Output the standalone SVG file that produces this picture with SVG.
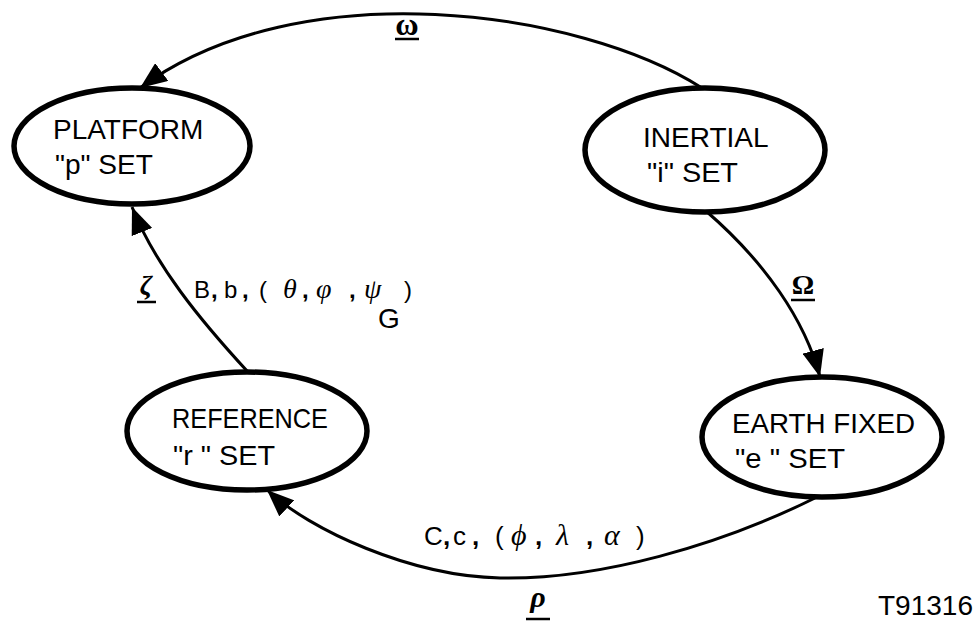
<svg xmlns="http://www.w3.org/2000/svg" width="974" height="622" viewBox="0 0 974 622">
<defs>
<style>
.node{fill:#fff;stroke:#000;stroke-width:5.5}
.lbl{font-family:"Liberation Sans",Arial,sans-serif;font-size:28px;fill:#000}
.edge{fill:none;stroke:#000;stroke-width:3}
.sym{font-family:"Liberation Serif","DejaVu Serif",serif;font-weight:bold;fill:#000;text-anchor:middle}
.ul{stroke:#000;stroke-width:2.5}
.eq{font-family:"Liberation Sans",Arial,sans-serif;fill:#000}
.gr{font-family:"Liberation Serif","DejaVu Serif",serif;font-style:italic}
.cm{font-weight:bold}
</style>
<marker id="ah" markerUnits="userSpaceOnUse" markerWidth="28" markerHeight="22" refX="27" refY="11" orient="auto">
<path d="M0,0 L27,11 L0,22 z" fill="#000"/>
</marker>
</defs>
<rect width="974" height="622" fill="#fff"/>
<g id="connectors">
<path class="edge" d="M702 88 C580 10, 300 -30, 140 88" marker-end="url(#ah)"/>
<path class="edge" d="M706 211 C765 262, 805 320, 820 377" marker-end="url(#ah)"/>
<path class="edge" d="M815 498 C720 545, 600 580, 500 578 C410 576, 310 530, 267 490" marker-end="url(#ah)"/>
<path class="edge" d="M248 372 C200 320, 155 265, 132 207" marker-end="url(#ah)"/>
</g>
<g id="platform">
<ellipse class="node" cx="132" cy="146" rx="118" ry="58"/>
<text class="lbl" x="53" y="139">PLATFORM</text>
<text class="lbl" x="55" y="174" textLength="98" lengthAdjust="spacingAndGlyphs">"p" SET</text>
</g>
<g id="inertial">
<ellipse class="node" cx="705" cy="150" rx="120" ry="62"/>
<text class="lbl" x="643" y="147">INERTIAL</text>
<text class="lbl" x="647" y="182" textLength="91" lengthAdjust="spacingAndGlyphs">"i" SET</text>
</g>
<g id="reference">
<ellipse class="node" cx="247" cy="431" rx="120" ry="59"/>
<text class="lbl" x="172" y="428" textLength="156" lengthAdjust="spacingAndGlyphs">REFERENCE</text>
<text class="lbl" x="173" y="465" textLength="102" lengthAdjust="spacingAndGlyphs">"r " SET</text>
</g>
<g id="earthfixed">
<ellipse class="node" cx="822" cy="437" rx="120" ry="60"/>
<text class="lbl" x="732" y="433" textLength="183" lengthAdjust="spacingAndGlyphs">EARTH FIXED</text>
<text class="lbl" x="735" y="468" textLength="110" lengthAdjust="spacingAndGlyphs">"e " SET</text>
</g>
<g id="labels">
<text class="sym" x="407" y="35" font-size="32">ω</text>
<line class="ul" x1="395" y1="39" x2="419" y2="39"/>
<text class="sym" x="803" y="294" font-size="28">Ω</text>
<line class="ul" x1="791" y1="300" x2="815" y2="300"/>
<text class="sym gr" x="146" y="294" font-size="28">ζ</text>
<line class="ul" x1="137" y1="302" x2="156" y2="302"/>
<text class="sym gr" x="538" y="607" font-size="30">ρ</text>
<line class="ul" x1="526" y1="619" x2="550" y2="619"/>
<text class="eq" y="298" font-size="24"><tspan x="194">B</tspan><tspan x="211" class="cm">,</tspan><tspan x="224">b</tspan><tspan x="242" class="cm">,</tspan><tspan x="259">(</tspan><tspan x="283" class="gr" font-size="28">θ</tspan><tspan x="302" class="cm">,</tspan><tspan x="316" class="gr" font-size="28">φ</tspan><tspan x="349" class="cm">,</tspan><tspan x="364" class="gr" font-size="28">ψ</tspan><tspan x="378" y="328" font-size="28">G</tspan><tspan x="404" y="298">)</tspan></text>
<text class="eq" y="545" font-size="26"><tspan x="424">C</tspan><tspan x="443" class="cm">,</tspan><tspan x="453">c</tspan><tspan x="472" class="cm">,</tspan><tspan x="495">(</tspan><tspan x="511" class="gr" font-size="30">ϕ</tspan><tspan x="535" class="cm">,</tspan><tspan x="556" class="gr" font-size="30">λ</tspan><tspan x="586" class="cm">,</tspan><tspan x="604" class="gr" font-size="30">α</tspan><tspan x="636">)</tspan></text>
<text class="lbl" x="878" y="615">T91316</text>
</g>
</svg>
